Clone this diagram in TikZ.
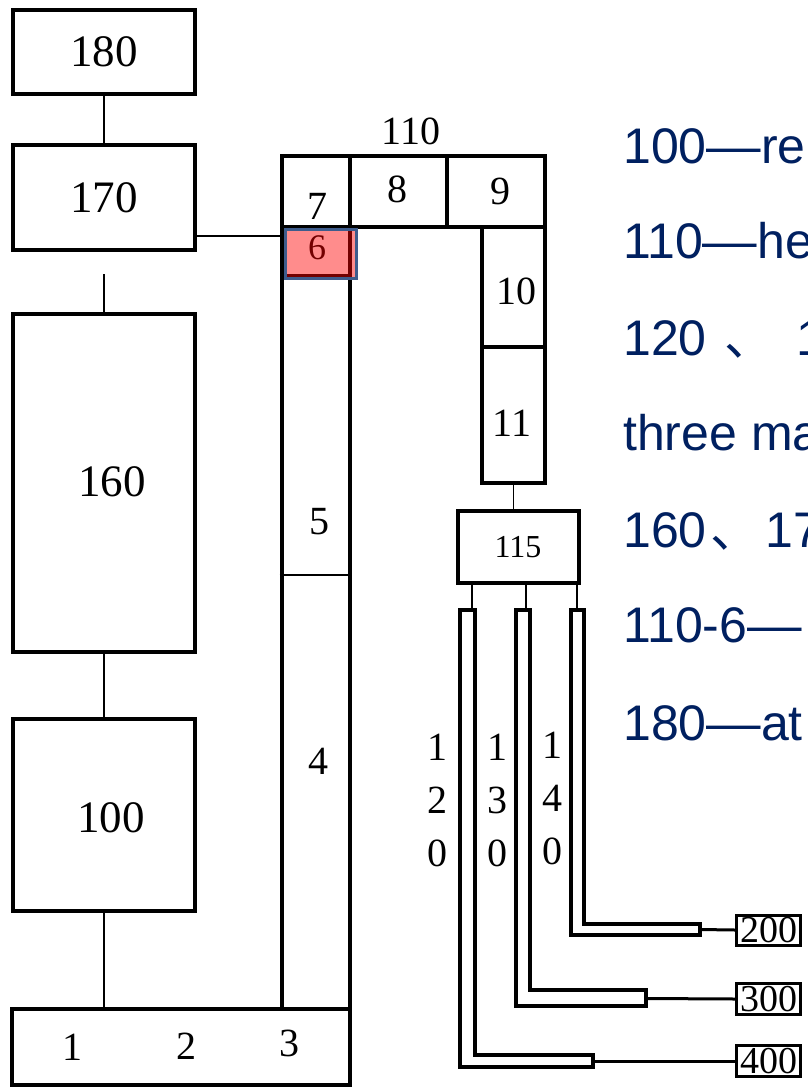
\documentclass[tikz,border=0pt]{standalone}
\usepackage{fontspec}
\usepackage{graphicx}
\setmainfont{Liberation Serif}
\newfontfamily\arialf{Liberation Sans}
\newfontfamily\cjkf{Noto Sans CJK SC}
\newcommand\wdash{\scalebox{1.09}[1]{—}}
\definecolor{navy}{RGB}{0,32,96}
\definecolor{hlred}{RGB}{255,0,0}
\definecolor{hlborder}{RGB}{62,92,140}
\begin{document}
\begin{tikzpicture}[x=1pt,y=-1pt,
  box/.style={draw, line width=4pt, inner sep=0pt},
  smallbox/.style={draw, line width=3pt, inner sep=0pt, font=\fontsize{38}{38}\selectfont},
  conn/.style={line width=1.5pt},
  thickconn/.style={line width=3pt},
  pipe/.style={draw, line width=3.8pt, fill=white, line join=miter},
  lab/.style={inner sep=0pt, font=\fontsize{40}{40}\selectfont},
  biglab/.style={inner sep=0pt, font=\fontsize{45}{45}\selectfont},
  vlab/.style={inner sep=0pt, align=center, font=\fontsize{40}{53}\selectfont},
  note/.style={inner sep=0pt, anchor=base west, text=navy, font=\arialf\fontsize{50}{50}\selectfont}]
\useasboundingbox (0,0) rectangle (808,1088);
\clip (0,0) rectangle (808,1088);
\fill[white] (0,0) rectangle (808,1088);

% left chain of boxes
\node[box, biglab, minimum width=182pt, minimum height=84pt] (n180) at (104,52) {180};
\node[box, biglab, minimum width=182pt, minimum height=105pt] (n170) at (104,197.5) {170};
\node[box, minimum width=182pt, minimum height=338pt] (n160) at (104,483) {};
\node[biglab] (t160) at (112,482) {160};
\node[box, minimum width=182pt, minimum height=192pt] (n100) at (104,815) {};
\node[biglab] (t100) at (111,818) {100};
\node[box, minimum width=337.5pt, minimum height=76.5pt] (base) at (181,1047) {};
\node[lab] (t1) at (72,1047.5) {1};
\node[lab] (t2) at (186,1046) {2};
\node[lab] (t3) at (289,1043) {3};

\draw[conn] (n180.south) -- (n170.north);
\draw[conn, shorten <=22pt] (n170.south) -- (n160.north);
\draw[conn] (n160.south) -- (n100.north);
\draw[conn] (n100.south) -- (n100.south |- base.north);

% heat exchanger column 110
\node[box, minimum width=68.5pt, minimum height=781.5pt] (col) at (315.75,617.75) {};
\node[box, minimum width=68.5pt, minimum height=71pt] (c7) at (315.75,191.5) {};
\node[lab] (t7) at (317.5,206) {7};
\node[box, minimum width=97pt, minimum height=71pt] (c8) at (398.5,191.5) {};
\node[lab] (t8) at (397,189) {8};
\node[box, minimum width=98pt, minimum height=71pt] (c9) at (496,191.5) {};
\node[lab] (t9) at (500,191) {9};
\node[lab] (t110) at (411,131) {110};
\node[draw, line width=3pt, inner sep=0pt, minimum width=68.5pt, minimum height=48pt] (c6) at (315.75,251) {};
\node[lab, font=\fontsize{36}{36}\selectfont] (t6) at (317,248) {6};
\draw[conn] (col.west |- 0,575) -- (col.east |- 0,575);
\node[lab] (t5) at (319,522) {5};
\node[lab] (t4) at (318,761) {4};
\node[box, minimum width=63.5pt, minimum height=120pt] (c10) at (513.25,287) {};
\node[lab] (t10) at (516,291) {10};
\node[box, minimum width=63.5pt, minimum height=136pt] (c11) at (513.25,415) {};
\node[lab] (t11) at (512,423) {11};

% highlight of 110-6
\node[draw=hlborder, line width=3pt, fill=hlred, fill opacity=0.45, draw opacity=1,
      minimum width=71pt, minimum height=49pt, inner sep=0pt] (h6) at (321,254) {};

\coordinate (j6) at (281.5,236);
\draw[conn] (j6 -| n170.east) -- (j6);

% distributor 115
\node[box, font=\fontsize{32}{32}\selectfont, minimum width=121pt, minimum height=72.5pt] (n115) at (518,547) {115};
\draw[conn] (c11.south) -- (c11.south |- n115.north);

% pipes 120, 130, 140
\draw[pipe] (460,610) -- (460,1067) -- (593,1067) -- (593,1055) -- (475,1055) -- (475,610) -- cycle;
\draw[pipe] (516,610) -- (516,1006) -- (646,1006) -- (646,990) -- (530,990) -- (530,610) -- cycle;
\draw[pipe] (571,610) -- (571,935) -- (700,935) -- (700,924) -- (584,924) -- (584,610) -- cycle;
\coordinate (p120) at (472,608);
\coordinate (p130) at (526,608);
\coordinate (p140) at (577,608);
\draw[conn] (n115.south -| p120) -- (p120);
\draw[conn] (n115.south -| p130) -- (p130);
\draw[conn] (n115.south -| p140) -- (p140);
\node[vlab] (t120) at (437,800) {1\\2\\0};
\node[vlab] (t130) at (497,800) {1\\3\\0};
\node[vlab] (t140) at (552,798) {1\\4\\0};

% end units
\node[smallbox, minimum width=64pt, minimum height=30pt] (b200) at (768.5,930) {200};
\node[smallbox, minimum width=64pt, minimum height=31.5pt] (b300) at (768.5,999) {300};
\node[smallbox, minimum width=64pt, minimum height=31.5pt] (b400) at (768.5,1061) {400};
\coordinate (e140) at (700,929.5);
\coordinate (e130) at (646,998.5);
\coordinate (e120) at (593,1061);
\draw[thickconn] (e140) -- (b200.west);
\draw[thickconn] (e130) -- (b300.west);
\draw[thickconn] (e120) -- (b400.west);

% legend text (cut off at the right edge)
\node[note] (d1) at (623,163) {100\wdash re};
\node[note] (d2) at (623,258) {110\wdash he};
\node[note] (d3) at (623,355) {120\kern18pt{\cjkf 、}\kern22pt 1};
\node[note] (d4) at (623,450) {three ma};
\node[note] (d5) at (623,547) {160\kern4pt{\cjkf 、}\kern5pt 17};
\node[note] (d6) at (623,642) {110-6\wdash};
\node[note] (d7) at (623,740) {180\wdash at};
\end{tikzpicture}
\end{document}
